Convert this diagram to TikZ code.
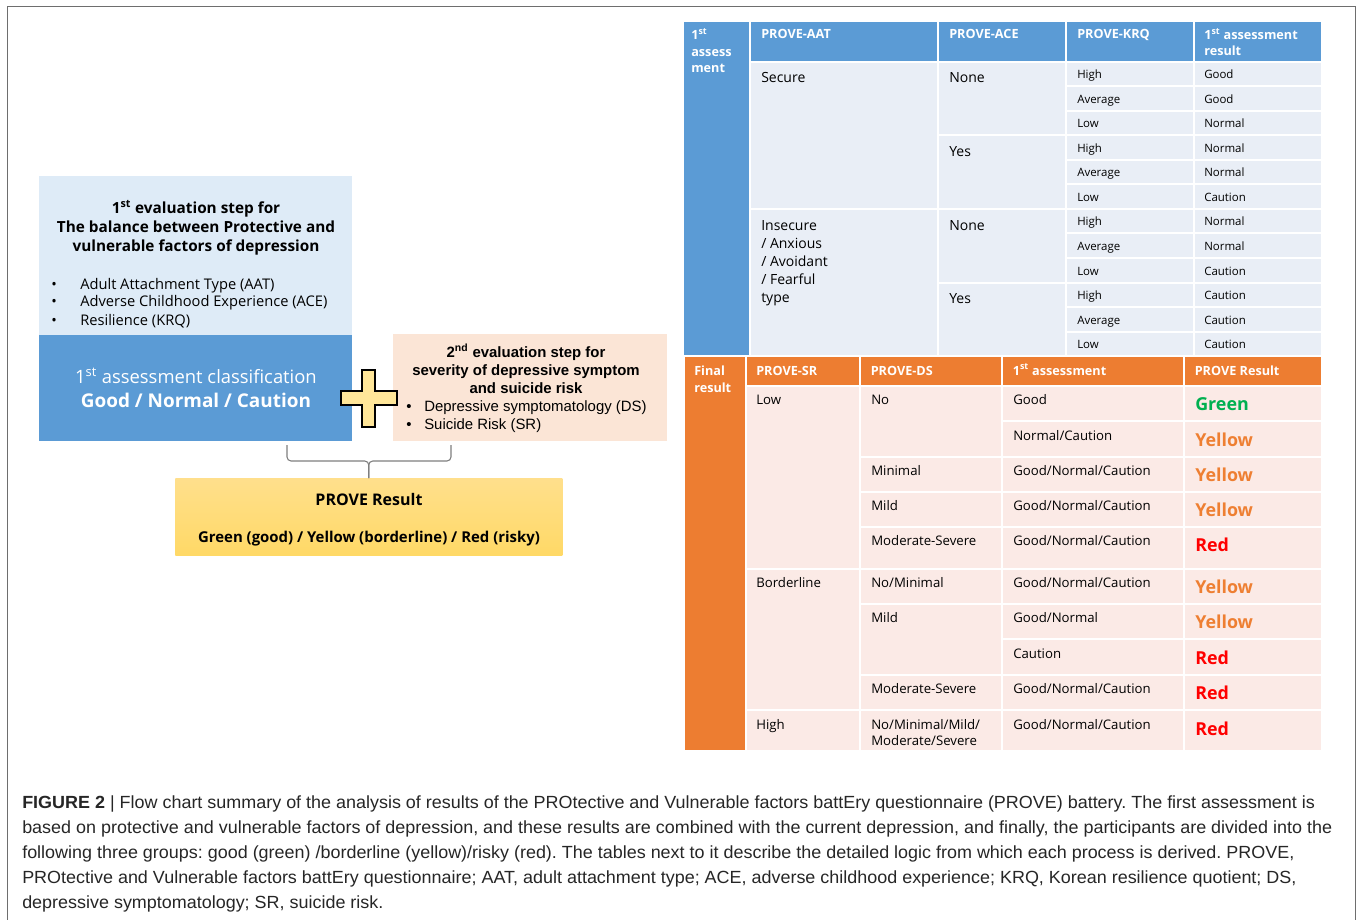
\documentclass[tikz,border=0pt]{standalone}
\usepackage{fontspec}
\setmainfont{Open Sans}
\newfontfamily\arialfont{Liberation Sans}
\newfontfamily\capfont[FakeStretch=1.02]{Liberation Sans}
\usetikzlibrary{positioning}

\definecolor{tblue}{HTML}{5B9BD5}
\definecolor{tbluelight}{HTML}{E9EEF6}
\definecolor{boxblue}{HTML}{DEEBF7}
\definecolor{torange}{HTML}{ED7D31}
\definecolor{tpink}{HTML}{FBEAE6}
\definecolor{peach}{HTML}{FBE5D6}
\definecolor{plusyellow}{HTML}{FFE699}
\definecolor{resgreen}{HTML}{00B050}
\definecolor{resyellow}{HTML}{EE7F32}
\definecolor{resred}{HTML}{FF0000}
\definecolor{framegray}{HTML}{6E6E6E}
\definecolor{bracegray}{HTML}{7F7F7F}

\begin{document}
\begin{tikzpicture}[x=0.75pt, y=-0.75pt, inner sep=0pt,
    cell/.style={draw=white, line width=1.5pt},
    box/.style={anchor=north west, inner sep=0pt},
    headtext/.style={anchor=base west, text=white, align=left, font=\bfseries\fontsize{9.5}{12.4}\selectfont},
    aattext/.style={anchor=base west, align=left, font=\fontsize{10.5}{13.5}\selectfont},
    krqtext/.style={anchor=base west, font=\fontsize{8.6}{10}\selectfont},
    srtext/.style={anchor=base west, align=left, font=\fontsize{9.9}{12}\selectfont},
    restext/.style={anchor=base west, font=\bfseries\fontsize{13.4}{15}\selectfont}]

\useasboundingbox (0,0) rectangle (1357,920);
\fill[white] (0,0) rectangle (1357,920);
\draw[framegray, line width=1.1pt] (7.5,920) -- (7.5,6.5) -- (1355.5,6.5) -- (1355.5,920);

% left side: the two evaluation steps
\node[box, fill=boxblue, minimum width=234.75pt, minimum height=119.25pt] (eval1) at (39,176) {};
\node[box, fill=tblue, minimum width=234.75pt, minimum height=79.5pt] (class1) at (39,335) {};
\node[box, fill=peach, minimum width=205.5pt, minimum height=80.25pt] (eval2) at (393,334) {};
\node[box, top color=yellow!45!orange!45, bottom color=yellow!50!orange!60, minimum width=290.25pt, minimum height=57.75pt] (result) at (175,478) {};

% (multi-line nodes sit on the baseline of their last line)
\node[anchor=base, align=center, font=\bfseries\fontsize{11.5}{14.6}\selectfont] (eval1-title) at (196,252)
    {1\textsuperscript{st} evaluation step for\\The balance between Protective and\\vulnerable factors of depression};
\node[anchor=base west, align=left, font=\fontsize{11}{13.5}\selectfont] (eval1-items) at (51,325)
    {\makebox[21.75pt][l]{\textbullet}Adult Attachment Type (AAT)\\
     \makebox[21.75pt][l]{\textbullet}Adverse Childhood Experience (ACE)\\
     \makebox[21.75pt][l]{\textbullet}Resilience (KRQ)};

\node[anchor=base, text=white, font=\fontsize{13.8}{16}\selectfont] (class1-top) at (196,383) {1\textsuperscript{st} assessment classification};
\node[anchor=base, text=white, font=\bfseries\fontsize{14.2}{16}\selectfont] (class1-bottom) at (196,407) {Good / Normal / Caution};

\node[anchor=base, align=center, font=\arialfont\bfseries\fontsize{11.2}{13.5}\selectfont] (eval2-title) at (526,393)
    {2\textsuperscript{nd} evaluation step for\\severity of depressive symptom\\and suicide risk};
\node[anchor=base west, align=left, font=\arialfont\fontsize{11.2}{13.5}\selectfont] (eval2-items) at (406,429)
    {\makebox[13.5pt][l]{\textbullet}Depressive symptomatology (DS)\\
     \makebox[13.5pt][l]{\textbullet}Suicide Risk (SR)};

\node[anchor=base, font=\bfseries\fontsize{12}{14}\selectfont] (result-title) at (369,505) {PROVE Result};
\node[anchor=base, font=\bfseries\fontsize{11.2}{14}\selectfont] (result-groups) at (369,542) {Green (good) / Yellow (borderline) / Red (risky)};

% plus sign between the steps
\draw[fill=plusyellow, line width=1.1pt, line join=miter]
    (362,370) -- (375,370) -- (375,391) -- (397,391) -- (397,405) -- (375,405) -- (375,427)
    -- (362,427) -- (362,405) -- (341,405) -- (341,391) -- (362,391) -- cycle;

% brace into the result
\coordinate (brace-l) at (287,445);
\coordinate (brace-r) at (451,445);
\draw[bracegray, line width=0.8pt, rounded corners=3pt] (brace-l) -- ++(0,16) -| (result.north);
\draw[bracegray, line width=0.8pt, rounded corners=3pt] (brace-r) -- ++(0,16) -| (result.north);

% table of the first assessment
\draw[cell, fill=tblue] (683,21) rectangle (750,356);
\node[headtext] (first-head) at (691,73) {1\textsuperscript{st}\\assess\\ment};
\foreach \xa/\xb/\txt in {750/938/PROVE-AAT, 938/1066/PROVE-ACE, 1066/1194/PROVE-KRQ}{
    \draw[cell, fill=tblue] (\xa,21) rectangle (\xb,62);
    \node[headtext] (head-\txt) at (\xa+11,39) {\txt};
}
\draw[cell, fill=tblue] (1194,21) rectangle (1322,62);
\node[headtext] (head-result1) at (1204,56) {1\textsuperscript{st} assessment\\result};

\draw[cell, fill=tbluelight] (750,62) rectangle (938,209);
\draw[cell, fill=tbluelight] (750,209) rectangle (938,356);
\node[aattext] (aat-secure) at (761,83) {Secure};
\node[aattext] (aat-insecure) at (761,302) {Insecure\\/ Anxious\\/ Avoidant\\/ Fearful\\type};
\foreach \ya/\yb/\ace [count=\i] in {62/135.5/None, 135.5/209/Yes, 209/282.5/None, 282.5/356/Yes}{
    \draw[cell, fill=tbluelight] (938,\ya) rectangle (1066,\yb);
    \node[aattext] (ace-\i) at (949,\ya+21) {\ace};
}
\foreach \krq/\res [count=\i from 0] in {High/Good, Average/Good, Low/Normal, High/Normal, Average/Normal, Low/Caution,
        High/Normal, Average/Normal, Low/Caution, High/Caution, Average/Caution, Low/Caution}{
    \draw[cell, fill=tbluelight] (1066,62+24.5*\i) rectangle (1194,86.5+24.5*\i);
    \draw[cell, fill=tbluelight] (1194,62+24.5*\i) rectangle (1322,86.5+24.5*\i);
    \node[krqtext] (krq-\i) at (1077,79+24.5*\i) {\krq};
    \node[krqtext] (res1-\i) at (1204,79+24.5*\i) {\res};
}

% table of the final result
\draw[cell, fill=torange] (684,356) rectangle (745.5,751);
\node[headtext] (final-head) at (694,392) {Final\\result};
\foreach \xa/\xb/\txt [count=\i] in {745.5/860/PROVE-SR, 860/1002/PROVE-DS, 1002/1184/1\textsuperscript{st} assessment, 1184/1322/PROVE Result}{
    \draw[cell, fill=torange] (\xa,356) rectangle (\xb,385.5);
    \node[headtext] (head2-\i) at (\xa+10.5,375) {\txt};
}
\foreach \ya/\yb/\sr [count=\i] in {385.5/568.5/Low, 568.5/710/Borderline, 710/751/High}{
    \draw[cell, fill=tpink] (745.5,\ya) rectangle (860,\yb);
    \node[srtext] (sr-\i) at (756,\ya+19) {\sr};
}
\foreach \ya/\yb/\ds [count=\i] in {385.5/456.5/No, 456.5/491.5/Minimal, 491.5/526.5/Mild, 526.5/568.5/Moderate-Severe,
        568.5/603.5/{No/Minimal}, 603.5/674.5/Mild, 674.5/710/Moderate-Severe}{
    \draw[cell, fill=tpink] (860,\ya) rectangle (1002,\yb);
    \node[srtext] (ds-\i) at (871,\ya+19) {\ds};
}
\draw[cell, fill=tpink] (860,710) rectangle (1002,751);
\node[srtext] (ds-8) at (871,745) {No/Minimal/Mild/\\Moderate/Severe};
\foreach \ya/\yb/\first/\res/\rescol [count=\i] in {385.5/421/Good/Green/resgreen,
        421/456.5/{Normal/Caution}/Yellow/resyellow, 456.5/491.5/{Good/Normal/Caution}/Yellow/resyellow,
        491.5/526.5/{Good/Normal/Caution}/Yellow/resyellow, 526.5/568.5/{Good/Normal/Caution}/Red/resred,
        568.5/603.5/{Good/Normal/Caution}/Yellow/resyellow, 603.5/639/{Good/Normal}/Yellow/resyellow,
        639/674.5/Caution/Red/resred, 674.5/710/{Good/Normal/Caution}/Red/resred, 710/751/{Good/Normal/Caution}/Red/resred}{
    \draw[cell, fill=tpink] (1002,\ya) rectangle (1184,\yb);
    \draw[cell, fill=tpink] (1184,\ya) rectangle (1322,\yb);
    \node[srtext] (first2-\i) at (1013,\ya+19) {\first};
    \node[restext, text=\rescol] (final-\i) at (1195,\ya+25) {\res};
}

% caption
\node[anchor=base west, align=left, text=black!85, font=\capfont\fontsize{13.2}{18.75}\selectfont\frenchspacing] (caption) at (22,908)
    {\textbf{FIGURE 2} | Flow chart summary of the analysis of results of the PROtective and Vulnerable factors battEry questionnaire (PROVE) battery. The first assessment is\\
     based on protective and vulnerable factors of depression, and these results are combined with the current depression, and finally, the participants are divided into the\\
     following three groups: good (green) /borderline (yellow)/risky (red). The tables next to it describe the detailed logic from which each process is derived. PROVE,\\
     PROtective and Vulnerable factors battEry questionnaire; AAT, adult attachment type; ACE, adverse childhood experience; KRQ, Korean resilience quotient; DS,\\
     depressive symptomatology; SR, suicide risk.};
\end{tikzpicture}
\end{document}
